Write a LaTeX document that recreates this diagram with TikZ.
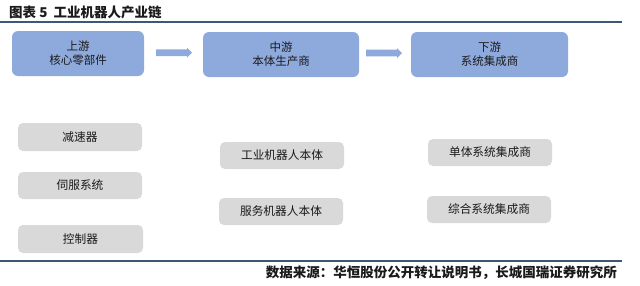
\documentclass[tikz,border=0pt]{standalone}
\usepackage{fontspec}
\setmainfont{Noto Sans CJK SC}
\definecolor{topblue}{HTML}{8EA9DB}
\definecolor{boxgray}{HTML}{D9D9D9}
\definecolor{rulec}{HTML}{3E5775}
\definecolor{txt}{HTML}{1A1A1A}
\tikzset{
  topbox/.style={fill=topblue, draw=none, rounded corners=6pt},
  toptext/.style={text=txt, font=\fontsize{11.5}{14}\selectfont, align=center},
  graybox/.style={fill=boxgray, draw=none, rounded corners=5pt},
  graytext/.style={text=txt, font=\fontsize{11.7}{13}\selectfont},
  flowarrow/.style={fill=topblue, draw=none},
  rulel/.style={draw=rulec, line width=1.2pt}
}
\newcommand{\flowarr}[2]{% start x, center y
  \path[flowarrow] (#1,#2-3.3) -- (#1+31,#2-3.3) -- (#1+31,#2-5) -- (#1+36,#2) -- (#1+31,#2+5) -- (#1+31,#2+3.3) -- (#1,#2+3.3) -- cycle;}
\begin{document}
\begin{tikzpicture}[x=1pt,y=-1pt]
\useasboundingbox (0,0) rectangle (640,285);
% title
\node[anchor=west, font=\fontsize{13.5}{15}\selectfont\bfseries, text=txt, inner sep=0pt] (title) at (9,12) {图表 5\ \ 工业机器人产业链};
\coordinate (r1a) at (0,22); \coordinate (r1b) at (622,22);
\draw[rulel] (r1a) -- (r1b);
% top boxes
\path[topbox] (12,31) rectangle (144,76);
\node[toptext] (up) at (78,53.5) {上游\\核心零部件};
\path[topbox] (203,32) rectangle (359,77);
\node[toptext] (mid) at (281,54.5) {中游\\本体生产商};
\path[topbox] (411,32) rectangle (568,77);
\node[toptext] (down) at (489.5,54.5) {下游\\系统集成商};
% arrows
\flowarr{156}{52.7}
\flowarr{366}{53}
% gray boxes
\path[graybox] (18,123) rectangle (142,151);
\node[graytext] (g1) at (80,137) {减速器};
\path[graybox] (18,172) rectangle (142,199);
\node[graytext] (g2) at (80,185.5) {伺服系统};
\path[graybox] (18,225) rectangle (143,253);
\node[graytext] (g3) at (80.5,239) {控制器};
\path[graybox] (220,142) rectangle (344,169);
\node[graytext] (m1) at (282,155.5) {工业机器人本体};
\path[graybox] (219,198) rectangle (343,225);
\node[graytext] (m2) at (281,211.5) {服务机器人本体};
\path[graybox] (428,139) rectangle (552,166);
\node[graytext] (d1) at (490,152.5) {单体系统集成商};
\path[graybox] (427,196) rectangle (551,223);
\node[graytext] (d2) at (489,209.5) {综合系统集成商};
% bottom rule and source
\coordinate (r2a) at (0,261); \coordinate (r2b) at (622,261);
\draw[rulel] (r2a) -- (r2b);
\node[anchor=east, font=\fontsize{13.5}{15}\selectfont\bfseries, text=txt, inner sep=0pt] (src) at (617,273) {数据来源：华恒股份公开转让说明书，长城国瑞证券研究所};
\end{tikzpicture}
\end{document}
